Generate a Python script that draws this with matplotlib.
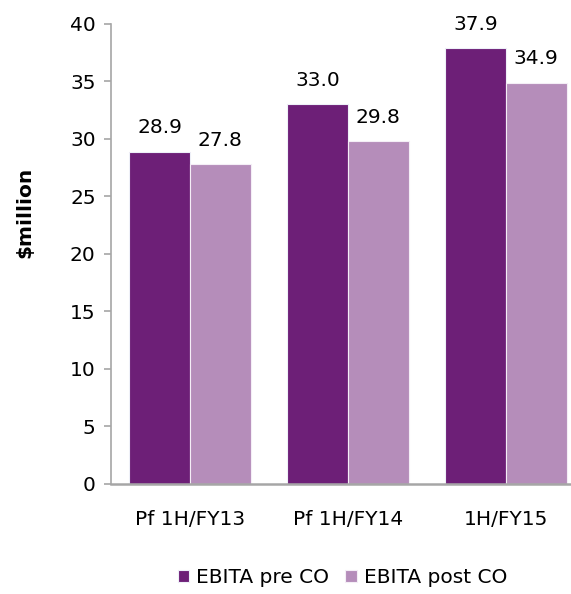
import matplotlib.pyplot as plt
import numpy as np

# EBITA before / after CO, $million
periods = ['Pf 1H/FY13', 'Pf 1H/FY14', '1H/FY15']
ebita_pre = [28.9, 33.0, 37.9]
ebita_post = [27.8, 29.8, 34.9]

dark = '#6d1f77'
light = '#b58dba'
grey = '#a6a6a6'
fs = 14.5

plt.rcParams['font.family'] = 'DejaVu Sans'

fig = plt.figure(figsize=(5.71, 5.94), dpi=100)
ax = fig.add_axes([0.1944, 0.1852, 0.8056, 0.7744])

x = np.arange(len(periods))
w = 0.385
b1 = ax.bar(x - w / 2, ebita_pre, w, color=dark, edgecolor='#eef0f8', linewidth=0.8,
            label='EBITA pre CO')
b2 = ax.bar(x + w / 2, ebita_post, w, color=light, edgecolor='#f4eef6', linewidth=0.8,
            label='EBITA post CO')

for bars, vals in ((b1, ebita_pre), (b2, ebita_post)):
    for r, v in zip(bars, vals):
        ax.annotate(f'{v:.1f}', (r.get_x() + r.get_width() / 2, v),
                    xytext=(0, 10.5), textcoords='offset points',
                    ha='center', va='bottom', fontsize=fs)

ax.set_xlim(-0.5, 2.413)
ax.set_ylim(0, 40)
ax.set_yticks(range(0, 41, 5))
ax.set_xticks(x)
ax.set_xticklabels(periods)

for s in ('top', 'right'):
    ax.spines[s].set_visible(False)
ax.spines['left'].set_color(grey)
ax.spines['left'].set_linewidth(1.2)
ax.spines['bottom'].set_color(grey)
ax.spines['bottom'].set_linewidth(1.8)
ax.tick_params(axis='y', colors=grey, labelcolor='black', length=5, width=1.2,
               labelsize=fs, pad=6)
ax.tick_params(axis='x', length=0, labelsize=fs, pad=19)

# axis title sits higher than the axis middle
fig.text(25 / 571, 1 - 212 / 594, '$million', rotation=90, ha='center', va='center',
         fontsize=fs, fontweight='bold')

fig.legend(handles=[b1, b2], loc='center', bbox_to_anchor=(0.60, 0.027), ncol=2,
           frameon=False, fontsize=fs, handlelength=0.55, handleheight=0.55,
           handletextpad=0.35, columnspacing=0.8)

fig.savefig('out.png', dpi=100)
